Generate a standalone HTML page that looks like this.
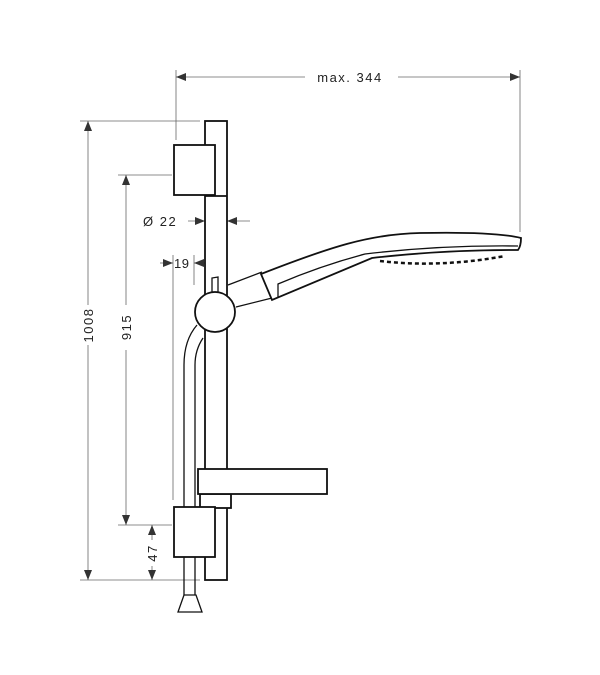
<!DOCTYPE html>
<html><head><style>body{margin:0;background:#fff}svg{display:block}text{font-family:"Liberation Sans",sans-serif;font-size:13px;fill:#222;letter-spacing:1.5px}</style></head>
<body>
<svg width="600" height="675" viewBox="0 0 600 675" xmlns="http://www.w3.org/2000/svg">
<defs><marker id="a" viewBox="0 0 10 10" refX="10" refY="5" markerWidth="10" markerHeight="10" orient="auto-start-reverse" markerUnits="userSpaceOnUse"><path d="M0,1 L10,5 L0,9Z" fill="#333"/></marker></defs>
<g stroke="#666" stroke-width="0.8" fill="none">
<line x1="176" y1="70" x2="176" y2="140"/><line x1="520" y1="70" x2="520" y2="232"/>
<line x1="176" y1="77" x2="305" y2="77" marker-start="url(#a)"/><line x1="398" y1="77" x2="520" y2="77" marker-end="url(#a)"/>
<line x1="80" y1="121" x2="200" y2="121"/><line x1="80" y1="580" x2="200" y2="580"/>
<line x1="88" y1="121" x2="88" y2="305" marker-start="url(#a)"/><line x1="88" y1="345" x2="88" y2="580" marker-end="url(#a)"/>
<line x1="118" y1="175" x2="172" y2="175"/><line x1="118" y1="525" x2="172" y2="525"/>
<line x1="126" y1="175" x2="126" y2="305" marker-start="url(#a)"/><line x1="126" y1="350" x2="126" y2="525" marker-end="url(#a)"/>
<line x1="152" y1="525" x2="152" y2="540" marker-start="url(#a)"/><line x1="152" y1="566" x2="152" y2="580" marker-end="url(#a)"/>
<line x1="188" y1="221" x2="205" y2="221" marker-end="url(#a)"/><line x1="250" y1="221" x2="227" y2="221" marker-end="url(#a)"/>
<line x1="160" y1="263" x2="173" y2="263" marker-end="url(#a)"/><line x1="205" y1="263" x2="194" y2="263" marker-end="url(#a)"/>
<line x1="173" y1="255" x2="173" y2="500"/><line x1="194" y1="255" x2="194" y2="285"/>
</g>
<text x="350" y="82" text-anchor="middle">max. 344</text>
<text transform="translate(93,325) rotate(-90)" text-anchor="middle">1008</text>
<text transform="translate(131,327) rotate(-90)" text-anchor="middle">915</text>
<text transform="translate(157,553) rotate(-90)" text-anchor="middle">47</text>
<text x="143" y="226">Ø 22</text>
<text x="174" y="268" style="letter-spacing:0.5px">19</text>
<g stroke="#111" stroke-width="1.8" fill="#fff">
<rect x="205" y="121" width="22" height="459"/>
<rect x="174" y="145" width="41" height="50"/>
<line x1="205" y1="196" x2="227" y2="196"/>
<path d="M228,285 L262,272 M236,307 L272,298" fill="none" stroke-width="1.3"/>
<path d="M197,325 Q184,340 184,365 L184,595 M203,338 Q195,350 195,365 L195,595" fill="none" stroke-width="1.3"/>
<rect x="200" y="494" width="31" height="14"/>
<rect x="198" y="469" width="129" height="25"/>
<rect x="174" y="507" width="41" height="50"/>
<path d="M184,595 L196,595 L202,612 L178,612Z" stroke-width="1.3"/>
<path d="M212,292 L212,278 L218,277 L218,292Z" stroke-width="1.3"/>
<circle cx="215" cy="312" r="20"/>
<path d="M261,274 C330,247 370,234 420,233 C470,232 505,234 521,238 Q521,246 518,250 Q440,250 372,258 L272,300 Z"/>
<path d="M278,297 L278,284 Q320,266 365,254 Q440,245 518,246" fill="none" stroke-width="1.3"/>
<path d="M380,261 Q440,268 505,256" fill="none" stroke-width="2.5" stroke-dasharray="4,3"/>
</g>
</svg>
</body></html>
